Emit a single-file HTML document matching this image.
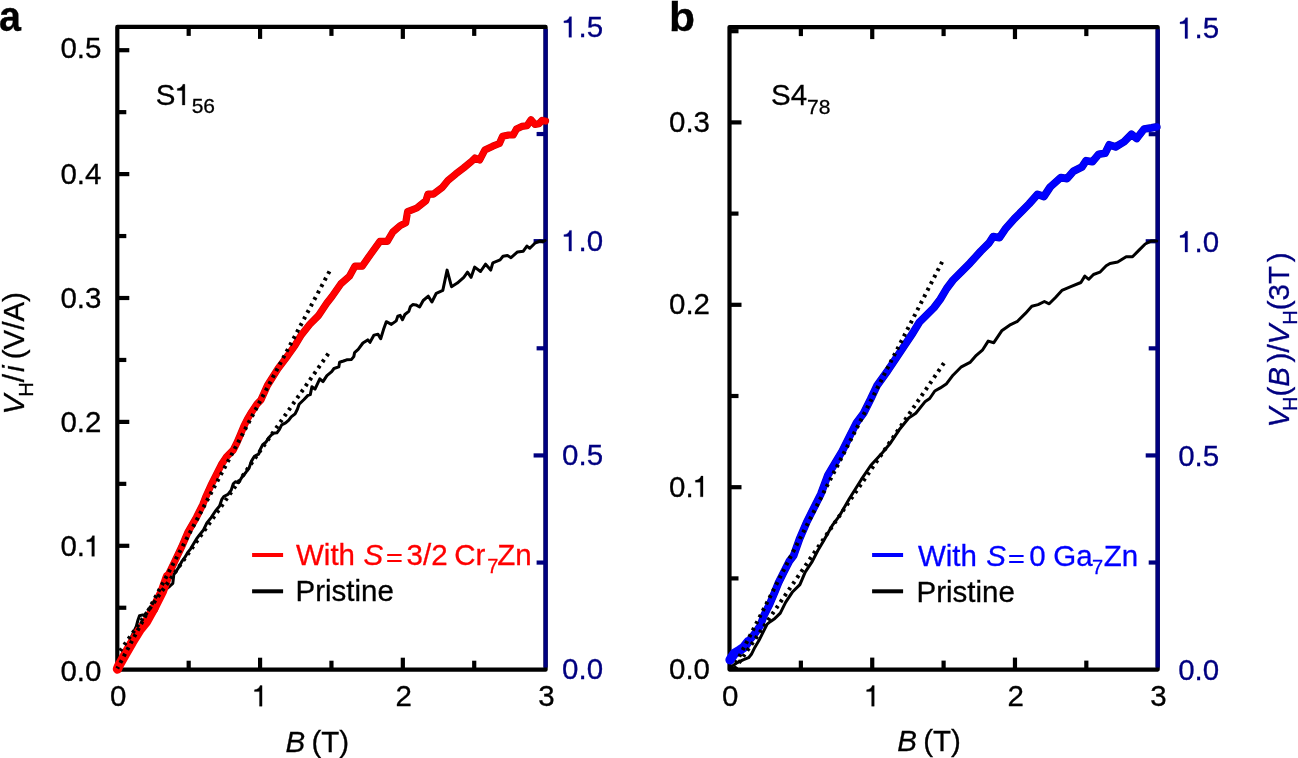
<!DOCTYPE html><html><head><meta charset="utf-8"><style>html,body{margin:0;padding:0;background:#fff;}svg{display:block;will-change:transform;}</style></head><body>
<svg width="1298" height="758" viewBox="0 0 1298 758" font-family='"Liberation Sans", sans-serif' font-size="29.5">
<rect width="1298" height="758" fill="#fff"/>
<path d="M545.60,26.90 L117.30,26.90 L117.30,669.70 L545.60,669.70 Z" fill="none" stroke="#000" stroke-width="4.2" stroke-linejoin="round"/>
<line x1="545.60" y1="29.00" x2="545.60" y2="667.60" stroke="#000080" stroke-width="4.2"/>
<line x1="188.68" y1="669.70" x2="188.68" y2="660.70" stroke="#000" stroke-width="4.2"/>
<line x1="188.68" y1="26.90" x2="188.68" y2="35.90" stroke="#000" stroke-width="4.2"/>
<line x1="260.07" y1="669.70" x2="260.07" y2="657.70" stroke="#000" stroke-width="4.2"/>
<line x1="260.07" y1="26.90" x2="260.07" y2="38.90" stroke="#000" stroke-width="4.2"/>
<line x1="331.45" y1="669.70" x2="331.45" y2="660.70" stroke="#000" stroke-width="4.2"/>
<line x1="331.45" y1="26.90" x2="331.45" y2="35.90" stroke="#000" stroke-width="4.2"/>
<line x1="402.83" y1="669.70" x2="402.83" y2="657.70" stroke="#000" stroke-width="4.2"/>
<line x1="402.83" y1="26.90" x2="402.83" y2="38.90" stroke="#000" stroke-width="4.2"/>
<line x1="474.22" y1="669.70" x2="474.22" y2="660.70" stroke="#000" stroke-width="4.2"/>
<line x1="474.22" y1="26.90" x2="474.22" y2="35.90" stroke="#000" stroke-width="4.2"/>
<line x1="117.30" y1="607.75" x2="126.30" y2="607.75" stroke="#000" stroke-width="4.2"/>
<line x1="117.30" y1="545.80" x2="129.30" y2="545.80" stroke="#000" stroke-width="4.2"/>
<line x1="117.30" y1="483.85" x2="126.30" y2="483.85" stroke="#000" stroke-width="4.2"/>
<line x1="117.30" y1="421.90" x2="129.30" y2="421.90" stroke="#000" stroke-width="4.2"/>
<line x1="117.30" y1="359.95" x2="126.30" y2="359.95" stroke="#000" stroke-width="4.2"/>
<line x1="117.30" y1="298.00" x2="129.30" y2="298.00" stroke="#000" stroke-width="4.2"/>
<line x1="117.30" y1="236.05" x2="126.30" y2="236.05" stroke="#000" stroke-width="4.2"/>
<line x1="117.30" y1="174.10" x2="129.30" y2="174.10" stroke="#000" stroke-width="4.2"/>
<line x1="117.30" y1="112.15" x2="126.30" y2="112.15" stroke="#000" stroke-width="4.2"/>
<line x1="117.30" y1="50.20" x2="129.30" y2="50.20" stroke="#000" stroke-width="4.2"/>
<line x1="545.60" y1="562.57" x2="536.60" y2="562.57" stroke="#000080" stroke-width="4.2"/>
<line x1="545.60" y1="455.43" x2="533.60" y2="455.43" stroke="#000080" stroke-width="4.2"/>
<line x1="545.60" y1="348.30" x2="536.60" y2="348.30" stroke="#000080" stroke-width="4.2"/>
<line x1="545.60" y1="241.17" x2="533.60" y2="241.17" stroke="#000080" stroke-width="4.2"/>
<line x1="545.60" y1="134.03" x2="536.60" y2="134.03" stroke="#000080" stroke-width="4.2"/>
<polyline points="117.3,669.0 121.0,660.0 125.0,651.0 131.0,638.0 136.3,626.4 138.0,620.0 139.5,615.7 142.8,614.9 146.5,616.0 150.4,617.6 156.4,610.2 160.0,600.0 165.0,590.0 170.0,586.0 172.8,583.4 173.8,574.5 176.7,570.5 179.7,565.6 181.7,561.6 184.7,557.7 187.6,552.7 190.6,548.8 193.6,543.8 196.5,538.9 199.5,534.9 203.5,530.0 206.9,522.9 211.1,517.6 215.3,511.2 219.6,506.0 221.7,499.6 223.8,496.5 228.0,494.4 231.2,490.1 233.3,483.8 235.4,481.7 238.6,482.7 241.7,477.5 246.0,472.2 249.1,468.0 251.2,461.6 254.4,456.3 258.6,454.2 260.3,449.4 262.7,444.6 265.8,442.3 269.0,437.5 273.0,433.2 276.9,432.8 279.3,429.6 281.7,424.8 285.6,422.9 288.8,420.1 291.2,416.9 295.1,413.8 297.5,409.0 299.1,404.3 304.0,399.5 307.9,395.4 310.3,394.6 311.9,386.7 315.0,389.1 319.8,378.8 323.0,381.6 326.9,375.6 331.7,371.7 334.0,368.5 338.8,366.9 339.6,362.2 343.5,361.0 346.7,359.8 351.5,359.4 353.8,356.6 354.6,352.6 358.2,349.4 362.9,343.0 367.7,339.9 370.0,342.3 374.0,335.1 378.0,334.3 380.7,338.7 383.5,329.6 386.3,321.7 391.4,324.4 396.2,320.9 397.8,316.1 400.1,315.3 402.5,319.7 404.9,314.5 408.8,311.4 410.4,306.6 412.8,304.6 416.0,304.9 419.6,307.0 423.2,300.5 428.3,296.2 431.9,302.0 436.3,293.3 442.8,290.4 447.1,270.1 451.5,286.7 457.3,283.1 463.8,277.3 467.5,272.2 471.1,277.3 474.7,267.1 480.5,271.5 485.6,264.2 490.7,270.1 492.8,262.8 500.1,259.9 503.0,256.3 507.4,255.5 511.0,257.7 517.5,251.9 523.3,251.2 526.9,246.1 529.8,248.3 534.9,243.2 540.0,241.0 542.9,241.8 545.0,240.5" fill="none" stroke="#000" stroke-width="3" stroke-linejoin="round" stroke-linecap="round"/>
<polyline points="117.5,669.0 118.7,666.0 125.8,653.4 132.2,642.3 140.1,629.6 146.4,621.7 154.3,607.5 162.2,591.6 167.5,576.5 173.3,564.5 181.7,546.8 188.0,532.0 196.5,517.2 202.8,504.5 205.5,497.5 210.8,485.7 216.1,475.1 221.4,464.6 226.6,456.7 233.2,450.1 237.2,442.2 240.5,434.3 243.8,426.4 247.7,418.5 251.7,411.9 257.0,404.0 260.9,400.0 267.4,385.5 278.0,368.7 287.5,356.0 295.0,345.4 301.3,334.9 309.8,324.3 318.2,315.9 326.7,303.2 332.0,296.5 340.9,283.8 349.3,276.4 354.9,266.2 362.2,266.2 370.6,254.2 379.9,241.3 387.3,241.3 392.8,232.0 400.2,225.6 405.7,222.8 407.6,211.7 416.8,208.0 426.0,200.6 427.9,194.2 433.4,194.2 442.0,187.7 447.9,180.5 455.8,173.9 463.7,167.9 471.7,161.3 475.0,158.0 479.6,160.0 484.8,150.1 492.8,146.2 499.4,143.5 502.6,136.3 508.6,135.0 513.2,135.0 516.5,129.0 521.8,126.4 527.0,125.7 531.0,119.8 535.0,124.4 538.9,123.7 542.2,120.4 545.5,121.1" fill="none" stroke="#d40000" stroke-width="7.2" stroke-linejoin="round" stroke-linecap="round"/>
<polyline points="117.5,669.0 118.7,666.0 125.8,653.4 132.2,642.3 140.1,629.6 146.4,621.7 154.3,607.5 162.2,591.6 167.5,576.5 173.3,564.5 181.7,546.8 188.0,532.0 196.5,517.2 202.8,504.5 205.5,497.5 210.8,485.7 216.1,475.1 221.4,464.6 226.6,456.7 233.2,450.1 237.2,442.2 240.5,434.3 243.8,426.4 247.7,418.5 251.7,411.9 257.0,404.0 260.9,400.0 267.4,385.5 278.0,368.7 287.5,356.0 295.0,345.4 301.3,334.9 309.8,324.3 318.2,315.9 326.7,303.2 332.0,296.5 340.9,283.8 349.3,276.4 354.9,266.2 362.2,266.2 370.6,254.2 379.9,241.3 387.3,241.3 392.8,232.0 400.2,225.6 405.7,222.8 407.6,211.7 416.8,208.0 426.0,200.6 427.9,194.2 433.4,194.2 442.0,187.7 447.9,180.5 455.8,173.9 463.7,167.9 471.7,161.3 475.0,158.0 479.6,160.0 484.8,150.1 492.8,146.2 499.4,143.5 502.6,136.3 508.6,135.0 513.2,135.0 516.5,129.0 521.8,126.4 527.0,125.7 531.0,119.8 535.0,124.4 538.9,123.7 542.2,120.4 545.5,121.1" fill="none" stroke="#ff0000" stroke-width="6.0" stroke-linejoin="round" stroke-linecap="round"/>
<polyline points="117.5,669.0 118.7,666.0 125.8,653.4 132.2,642.3 140.1,629.6 146.4,621.7 154.3,607.5 162.2,591.6 167.5,576.5" fill="none" stroke="#ff0000" stroke-width="9.5" stroke-linejoin="round" stroke-linecap="round"/>
<line x1="329.48" y1="271.32" x2="117.3" y2="668.5" stroke="#000" stroke-width="4" stroke-dasharray="2.9 4.45"/>
<line x1="328.33" y1="353.61" x2="119.3" y2="652.0" stroke="#000" stroke-width="4" stroke-dasharray="2.9 4.45"/>
<text stroke="#000" stroke-width="0.3" x="60.38" y="680.85">0.0</text>
<text stroke="#000" stroke-width="0.3" x="60.38" y="556.35">0. </text>
<path stroke="#000" stroke-width="0.3" d="M94.40,556.35 L94.40,535.70 L92.42,535.70 C91.92,537.62 90.45,539.62 86.79,539.95 L86.79,541.75 L91.80,541.75 L91.80,556.35 Z" fill="#000"/>
<text stroke="#000" stroke-width="0.3" x="60.38" y="432.00">0.2</text>
<text stroke="#000" stroke-width="0.3" x="60.38" y="307.80">0.3</text>
<text stroke="#000" stroke-width="0.3" x="60.38" y="183.55">0.4</text>
<text stroke="#000" stroke-width="0.3" x="60.38" y="58.35">0.5</text>
<text stroke="#000080" stroke-width="0.3" x="562.10" y="678.65" fill="#000080">0.0</text>
<text stroke="#000080" stroke-width="0.3" x="562.10" y="465.00" fill="#000080">0.5</text>
<text stroke="#000080" stroke-width="0.3" x="562.10" y="251.05" fill="#000080"> .0</text>
<path stroke="#000080" stroke-width="0.3" d="M571.51,251.05 L571.51,230.40 L569.53,230.40 C569.03,232.32 567.56,234.32 563.90,234.65 L563.90,236.45 L568.91,236.45 L568.91,251.05 Z" fill="#000080"/>
<text stroke="#000080" stroke-width="0.3" x="562.10" y="37.30" fill="#000080"> .5</text>
<path stroke="#000080" stroke-width="0.3" d="M571.51,37.30 L571.51,16.65 L569.53,16.65 C569.03,18.57 567.56,20.57 563.90,20.90 L563.90,22.70 L568.91,22.70 L568.91,37.30 Z" fill="#000080"/>
<text stroke="#000" stroke-width="0.3" x="109.89" y="706.20">0</text>
<text stroke="#000" stroke-width="0.3" x="252.66" y="706.20"> </text>
<path stroke="#000" stroke-width="0.3" d="M262.07,706.20 L262.07,685.55 L260.10,685.55 C259.59,687.47 258.12,689.47 254.46,689.80 L254.46,691.60 L259.48,691.60 L259.48,706.20 Z" fill="#000"/>
<text stroke="#000" stroke-width="0.3" x="395.43" y="706.20">2</text>
<text stroke="#000" stroke-width="0.3" x="538.19" y="706.20">3</text>
<path d="M1157.70,27.10 L729.50,27.10 L729.50,669.60 L1157.70,669.60 Z" fill="none" stroke="#000" stroke-width="4.2" stroke-linejoin="round"/>
<line x1="1157.70" y1="29.20" x2="1157.70" y2="667.50" stroke="#000080" stroke-width="4.2"/>
<line x1="800.87" y1="669.60" x2="800.87" y2="660.60" stroke="#000" stroke-width="4.2"/>
<line x1="800.87" y1="27.10" x2="800.87" y2="36.10" stroke="#000" stroke-width="4.2"/>
<line x1="872.23" y1="669.60" x2="872.23" y2="657.60" stroke="#000" stroke-width="4.2"/>
<line x1="872.23" y1="27.10" x2="872.23" y2="39.10" stroke="#000" stroke-width="4.2"/>
<line x1="943.60" y1="669.60" x2="943.60" y2="660.60" stroke="#000" stroke-width="4.2"/>
<line x1="943.60" y1="27.10" x2="943.60" y2="36.10" stroke="#000" stroke-width="4.2"/>
<line x1="1014.97" y1="669.60" x2="1014.97" y2="657.60" stroke="#000" stroke-width="4.2"/>
<line x1="1014.97" y1="27.10" x2="1014.97" y2="39.10" stroke="#000" stroke-width="4.2"/>
<line x1="1086.33" y1="669.60" x2="1086.33" y2="660.60" stroke="#000" stroke-width="4.2"/>
<line x1="1086.33" y1="27.10" x2="1086.33" y2="36.10" stroke="#000" stroke-width="4.2"/>
<line x1="729.50" y1="578.40" x2="738.50" y2="578.40" stroke="#000" stroke-width="4.2"/>
<line x1="729.50" y1="487.20" x2="741.50" y2="487.20" stroke="#000" stroke-width="4.2"/>
<line x1="729.50" y1="396.00" x2="738.50" y2="396.00" stroke="#000" stroke-width="4.2"/>
<line x1="729.50" y1="304.80" x2="741.50" y2="304.80" stroke="#000" stroke-width="4.2"/>
<line x1="729.50" y1="213.60" x2="738.50" y2="213.60" stroke="#000" stroke-width="4.2"/>
<line x1="729.50" y1="122.40" x2="741.50" y2="122.40" stroke="#000" stroke-width="4.2"/>
<line x1="729.50" y1="31.20" x2="738.50" y2="31.20" stroke="#000" stroke-width="4.2"/>
<line x1="1157.70" y1="562.52" x2="1148.70" y2="562.52" stroke="#000080" stroke-width="4.2"/>
<line x1="1157.70" y1="455.43" x2="1145.70" y2="455.43" stroke="#000080" stroke-width="4.2"/>
<line x1="1157.70" y1="348.35" x2="1148.70" y2="348.35" stroke="#000080" stroke-width="4.2"/>
<line x1="1157.70" y1="241.27" x2="1145.70" y2="241.27" stroke="#000080" stroke-width="4.2"/>
<line x1="1157.70" y1="134.18" x2="1148.70" y2="134.18" stroke="#000080" stroke-width="4.2"/>
<polyline points="729.5,669.0 731.5,666.6 736.3,663.2 743.1,659.8 748.6,657.7 751.4,654.3 754.8,647.4 758.9,640.6 763.0,632.3 767.2,624.1 770.6,621.4 774.9,618.4 780.3,613.1 785.6,602.4 792.7,591.7 799.9,584.6 805.2,572.1 812.3,561.4 817.7,550.7 823.2,541.4 832.7,524.8 839.8,515.3 849.3,498.7 861.2,479.7 870.7,465.5 882.6,452.4 889.7,444.1 899.2,429.8 908.7,418.0 915.8,413.2 925.3,401.4 929.7,398.5 934.8,391.0 940.3,387.9 946.6,383.7 953.0,375.2 961.4,366.8 970.0,362.4 976.3,355.3 982.7,349.8 988.2,341.1 993.8,342.7 1001.7,330.8 1009.6,325.2 1017.5,321.3 1025.4,313.4 1031.8,306.2 1038.1,304.6 1044.4,301.5 1049.2,303.8 1055.5,297.5 1061.9,290.4 1071.4,286.4 1080.9,282.5 1084.8,276.1 1088.8,279.3 1093.5,274.5 1099.9,272.2 1106.2,265.8 1110.0,263.5 1117.7,262.0 1126.2,256.7 1132.5,256.7 1138.8,250.4 1145.2,244.0 1151.5,240.9 1156.8,240.9" fill="none" stroke="#000" stroke-width="3" stroke-linejoin="round" stroke-linecap="round"/>
<polyline points="730.1,659.8 734.2,653.6 739.7,650.2 743.8,647.4 747.9,642.0 752.1,637.1 756.2,631.7 760.3,625.5 764.2,614.9 769.6,604.2 774.9,591.7 778.5,582.8 783.8,572.1 789.2,561.4 793.6,555.6 799.5,539.0 806.6,522.4 813.7,508.2 820.9,493.9 828.0,474.9 835.1,463.1 842.2,451.2 849.3,437.0 856.5,422.7 863.6,413.2 870.7,399.0 876.9,385.8 887.5,371.0 895.9,358.3 904.4,345.6 912.8,333.0 919.2,322.4 925.5,316.1 934.0,307.6 940.3,299.2 946.6,288.6 953.0,280.1 961.4,271.7 969.9,263.2 980.6,251.4 989.0,243.0 993.2,236.6 999.5,237.7 1005.9,228.2 1014.3,218.7 1022.8,210.3 1029.1,203.9 1037.5,194.4 1043.9,196.5 1050.2,187.0 1060.8,177.5 1067.1,178.6 1073.4,171.2 1081.9,167.0 1086.1,160.7 1092.4,161.7 1098.7,154.3 1105.1,153.3 1109.3,144.8 1115.6,146.9 1124.1,141.7 1131.5,134.3 1136.7,138.5 1144.1,129.0 1151.5,127.9 1156.8,126.9" fill="none" stroke="#0000c8" stroke-width="7.7" stroke-linejoin="round" stroke-linecap="round"/>
<polyline points="730.1,659.8 734.2,653.6 739.7,650.2 743.8,647.4 747.9,642.0 752.1,637.1 756.2,631.7 760.3,625.5 764.2,614.9 769.6,604.2 774.9,591.7 778.5,582.8 783.8,572.1 789.2,561.4 793.6,555.6 799.5,539.0 806.6,522.4 813.7,508.2 820.9,493.9 828.0,474.9 835.1,463.1 842.2,451.2 849.3,437.0 856.5,422.7 863.6,413.2 870.7,399.0 876.9,385.8 887.5,371.0 895.9,358.3 904.4,345.6 912.8,333.0 919.2,322.4 925.5,316.1 934.0,307.6 940.3,299.2 946.6,288.6 953.0,280.1 961.4,271.7 969.9,263.2 980.6,251.4 989.0,243.0 993.2,236.6 999.5,237.7 1005.9,228.2 1014.3,218.7 1022.8,210.3 1029.1,203.9 1037.5,194.4 1043.9,196.5 1050.2,187.0 1060.8,177.5 1067.1,178.6 1073.4,171.2 1081.9,167.0 1086.1,160.7 1092.4,161.7 1098.7,154.3 1105.1,153.3 1109.3,144.8 1115.6,146.9 1124.1,141.7 1131.5,134.3 1136.7,138.5 1144.1,129.0 1151.5,127.9 1156.8,126.9" fill="none" stroke="#0000ff" stroke-width="6.5" stroke-linejoin="round" stroke-linecap="round"/>
<polyline points="730.1,659.8 734.2,653.6 739.7,650.2 743.8,647.4 747.9,642.0" fill="none" stroke="#0000ff" stroke-width="9.5" stroke-linejoin="round" stroke-linecap="round"/>
<line x1="942.16" y1="261.81" x2="732.6" y2="669.6" stroke="#000" stroke-width="4" stroke-dasharray="2.9 4.45"/>
<line x1="943.92" y1="363.10" x2="734.3" y2="669.6" stroke="#000" stroke-width="4" stroke-dasharray="2.9 4.45"/>
<text stroke="#000" stroke-width="0.3" x="668.98" y="678.85">0.0</text>
<text stroke="#000" stroke-width="0.3" x="668.98" y="496.75">0. </text>
<path stroke="#000" stroke-width="0.3" d="M703.00,496.75 L703.00,476.10 L701.02,476.10 C700.52,478.02 699.05,480.02 695.39,480.35 L695.39,482.15 L700.40,482.15 L700.40,496.75 Z" fill="#000"/>
<text stroke="#000" stroke-width="0.3" x="668.98" y="314.35">0.2</text>
<text stroke="#000" stroke-width="0.3" x="668.98" y="132.25">0.3</text>
<text stroke="#000080" stroke-width="0.3" x="1178.20" y="680.25" fill="#000080">0.0</text>
<text stroke="#000080" stroke-width="0.3" x="1178.20" y="466.25" fill="#000080">0.5</text>
<text stroke="#000080" stroke-width="0.3" x="1178.20" y="252.00" fill="#000080"> .0</text>
<path stroke="#000080" stroke-width="0.3" d="M1187.61,252.00 L1187.61,231.35 L1185.63,231.35 C1185.13,233.27 1183.66,235.27 1180.00,235.60 L1180.00,237.40 L1185.01,237.40 L1185.01,252.00 Z" fill="#000080"/>
<text stroke="#000080" stroke-width="0.3" x="1178.20" y="38.40" fill="#000080"> .5</text>
<path stroke="#000080" stroke-width="0.3" d="M1187.61,38.40 L1187.61,17.75 L1185.63,17.75 C1185.13,19.67 1183.66,21.67 1180.00,22.00 L1180.00,23.80 L1185.01,23.80 L1185.01,38.40 Z" fill="#000080"/>
<text stroke="#000" stroke-width="0.3" x="722.09" y="706.20">0</text>
<text stroke="#000" stroke-width="0.3" x="864.83" y="706.20"> </text>
<path stroke="#000" stroke-width="0.3" d="M874.24,706.20 L874.24,685.55 L872.26,685.55 C871.76,687.47 870.29,689.47 866.63,689.80 L866.63,691.60 L871.64,691.60 L871.64,706.20 Z" fill="#000"/>
<text stroke="#000" stroke-width="0.3" x="1007.56" y="706.20">2</text>
<text stroke="#000" stroke-width="0.3" x="1150.30" y="706.20">3</text>
<text stroke="#000" stroke-width="0.3" transform="translate(-1.1,30.7) scale(0.93,1)" font-weight="bold" font-size="42.5">a</text>
<text stroke="#000" stroke-width="0.3" transform="translate(669.1,30.5) scale(1.04,1)" font-weight="bold" font-size="41">b</text>
<text stroke="#000" stroke-width="0.3" x="155.8" y="105">S<tspan x="191.7" font-size="21" dy="8.3">56</tspan></text>
<path stroke="#000" stroke-width="0.3" d="M184.89,105.00 L184.89,84.35 L182.91,84.35 C182.41,86.27 180.94,88.27 177.28,88.60 L177.28,90.40 L182.29,90.40 L182.29,105.00 Z" fill="#000"/>
<text stroke="#000" stroke-width="0.3" x="771" y="105.3">S4<tspan x="807" font-size="21" dy="8.3">78</tspan></text>
<text stroke="#000" stroke-width="0.3" x="285.5" y="751.5"><tspan font-style="italic">B</tspan><tspan dx="-2"> (T)</tspan></text>
<text stroke="#000" stroke-width="0.3" x="897.3" y="751"><tspan font-style="italic">B</tspan><tspan dx="-2"> (T)</tspan></text>
<text stroke="#000" stroke-width="0.3" transform="translate(23.7,414.4) rotate(-90)"><tspan font-style="italic">V</tspan><tspan font-size="20" dx="-2" dy="8.8">H</tspan><tspan dy="-8.8">/</tspan><tspan font-style="italic" dx="2">i</tspan><tspan dx="-2"> (V/A)</tspan></text>
<text stroke="#000080" stroke-width="0.3" transform="translate(1288.5,427.6) rotate(-90)" fill="#000080"><tspan font-style="italic">V</tspan><tspan font-size="20" dx="-3" dy="8.8">H</tspan><tspan dy="-8.8">(</tspan><tspan font-style="italic">B</tspan><tspan dx="4.5">)/</tspan><tspan font-style="italic">V</tspan><tspan font-size="20" dy="8.8">H</tspan><tspan dy="-8.8">(3T</tspan><tspan dx="-4"> )</tspan></text>
<line x1="252.1" y1="555" x2="283.1" y2="555" stroke="#ff0000" stroke-width="4"/>
<line x1="252.1" y1="591.3" x2="283.1" y2="591.3" stroke="#000" stroke-width="4"/>
<line x1="872.1" y1="555" x2="903.1" y2="555" stroke="#0000ff" stroke-width="4"/>
<line x1="872.1" y1="591.3" x2="903.1" y2="591.3" stroke="#000" stroke-width="4"/>
<text stroke="#ff0000" stroke-width="0.3" y="564.6" fill="#ff0000"><tspan x="296">With</tspan><tspan x="363.4" font-style="italic">S</tspan><tspan x="406.6">3/2</tspan><tspan x="454.2">Cr</tspan><tspan x="487.3" font-size="20" dy="8.4">7</tspan><tspan x="497.3" dy="-8.4">Zn</tspan></text>
<text stroke="#000" stroke-width="0.3" x="295.5" y="600.8">Pristine</text>
<path d="M387.2,555H401.6M387.2,561H401.6" stroke="#ff0000" stroke-width="2.1"/>
<path d="M1009.2,556H1023.6M1009.2,562H1023.6" stroke="#0000ff" stroke-width="2.1"/>
<text stroke="#0000ff" stroke-width="0.3" y="565.6" fill="#0000ff"><tspan x="917.9">With</tspan><tspan x="986.2" font-style="italic">S</tspan><tspan x="1029.2">0</tspan><tspan x="1053.3">Ga</tspan><tspan x="1091.9" font-size="20" dy="8.4">7</tspan><tspan x="1103.7" dy="-8.4">Zn</tspan></text>
<text stroke="#000" stroke-width="0.3" x="916.5" y="602">Pristine</text>
</svg></body></html>
